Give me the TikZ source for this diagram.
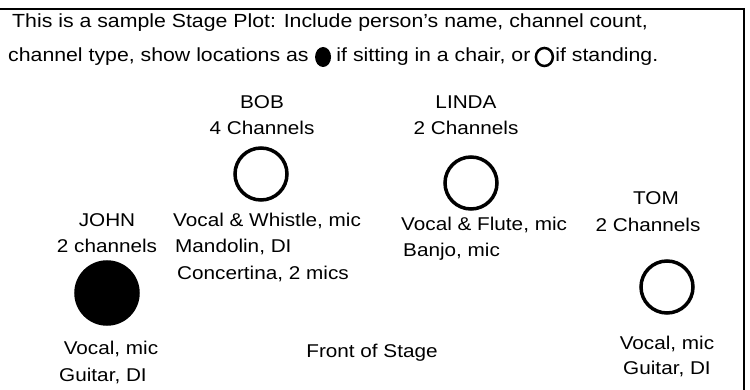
\documentclass[tikz,border=0pt]{standalone}
\usepackage{fontspec}
\setmainfont{Liberation Sans}[FakeStretch=1.12]
\usetikzlibrary{positioning,shapes.geometric}

\gdef\sitfill{black}
\gdef\standfill{white}

\tikzset{
  txt/.style={inner sep=0pt, text height=13pt, text depth=4pt},
  head/.style={txt, font=\fontsize{19}{22}\selectfont},
  spot/.style={draw, circle, line width=3.5pt, inner sep=0pt, minimum size=52pt},
}

\begin{document}
\begin{tikzpicture}[x=1pt, y=-1pt, node distance=9pt, font=\fontsize{18.5}{22}\selectfont]
\useasboundingbox (0,0) rectangle (750,390);
\draw[line width=2pt] (-5,9) -- (744,9) -- (744,395);

% heading
\node[head, anchor=west] (headA) at (12,23) {This is a sample Stage Plot: Include person's name, channel count,};
\node[head, anchor=west] (headB) at (8,57) {channel type, show locations as};
\node[ellipse, fill=\sitfill, inner sep=0pt, minimum width=16pt, minimum height=20pt] (sitkey) [right=6pt of headB] {};
\node[head] (headC) [right=5pt of sitkey] {if sitting in a chair, or};
\node[draw, ellipse, line width=2.5pt, inner sep=0pt, minimum width=17pt, minimum height=18pt] (standkey) [right=4pt of headC] {};
\node[head] (headD) [right=1pt of standkey] {if standing.};

% players
\node[txt] (bob) at (262,104) {BOB};
\node[txt] (bobch) [below=of bob] {4 Channels};
\node[spot, fill=\standfill] (bobspot) at (261,174) {};
\node[txt, anchor=west] (bobA) at (173,222) {Vocal \& Whistle, mic};
\node[txt, anchor=west] (bobB) at (175,248) {Mandolin, DI};
\node[txt, anchor=west] (bobC) at (177,275) {Concertina, 2 mics};

\node[txt] (linda) at (466,104) {LINDA};
\node[txt] (lindach) [below=of linda] {2 Channels};
\node[spot, fill=\standfill] (lindaspot) at (471,183) {};
\node[txt, anchor=west] (lindaA) at (401,226) {Vocal \& Flute, mic};
\node[txt, anchor=west] (lindaB) at (403,252) {Banjo, mic};

\node[txt] (tom) at (656,200) {TOM};
\node[txt] (tomch) at (648,227) {2 Channels};
\node[spot, fill=\standfill] (tomspot) at (667,287) {};
\node[txt] (tomA) at (667,345) {Vocal, mic};
\node[txt] (tomB) at (667,370) {Guitar, DI};

\node[txt] (john) at (107,222) {JOHN};
\node[txt] (johnch) [below=of john] {2 channels};
\node[spot, fill=\sitfill, minimum size=62pt] (johnspot) at (107,293) {};
\node[txt] (johnA) at (111,350) {Vocal, mic};
\node[txt] (johnB) at (103,377) {Guitar, DI};

\node[txt] (front) at (372,353) {Front of Stage};
\end{tikzpicture}
\end{document}
